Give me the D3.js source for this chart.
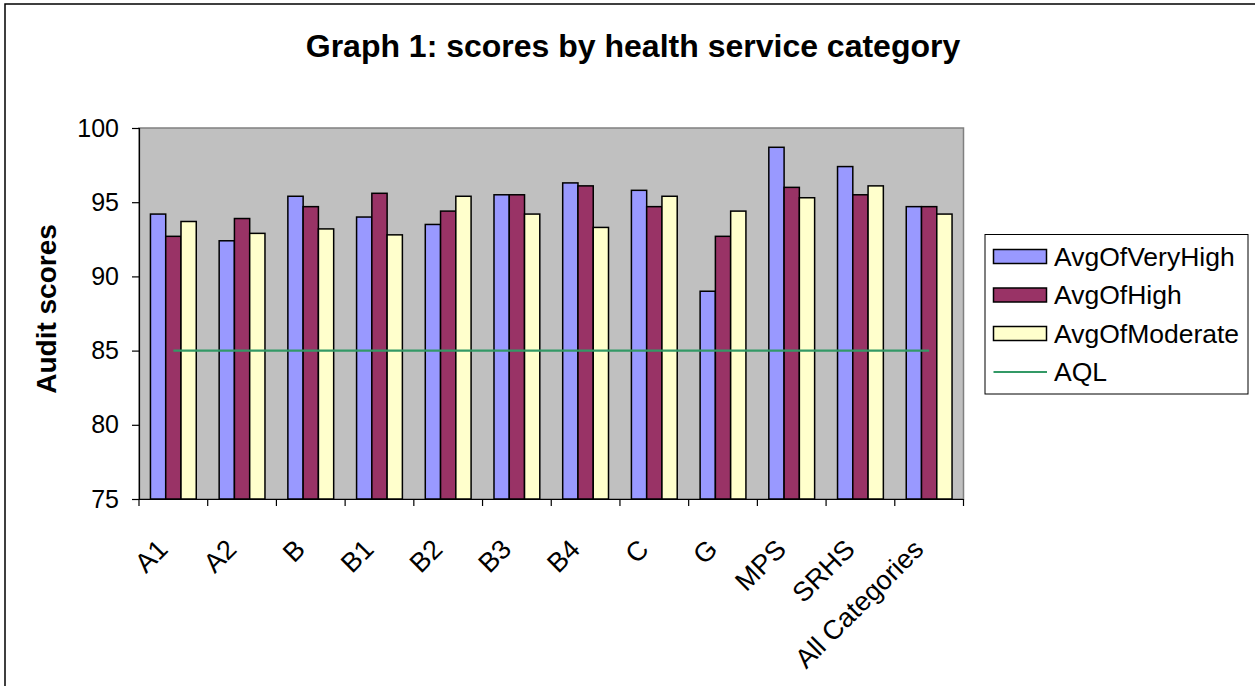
<!DOCTYPE html>
<html>
<head>
<meta charset="utf-8">
<script src="https://cdn.jsdelivr.net/npm/d3@7"></script>
<style>
  html, body { margin: 0; padding: 0; background: #fff; }
  svg { display: block; font-family: "Liberation Sans", Arial, sans-serif; }
</style>
</head>
<body>
<svg id="chart" width="1255" height="686"></svg>
<script>
const categories = ["A1", "A2", "B", "B1", "B2", "B3", "B4", "C", "G", "MPS", "SRHS", "All Categories"];
const seriesNames = ["AvgOfVeryHigh", "AvgOfHigh", "AvgOfModerate"];
const avgOfVeryHigh = [94.2, 92.4, 95.4, 94.0, 93.5, 95.5, 96.3, 95.8, 89.0, 98.7, 97.4, 94.7];
const avgOfHigh     = [92.7, 93.9, 94.7, 95.6, 94.4, 95.5, 96.1, 94.7, 92.7, 96.0, 95.5, 94.7];
const avgOfModerate = [93.7, 92.9, 93.2, 92.8, 95.4, 94.2, 93.3, 95.4, 94.4, 95.3, 96.1, 94.2];
const aql           = [85, 85, 85, 85, 85, 85, 85, 85, 85, 85, 85, 85];
const yTicks = [75, 80, 85, 90, 95, 100];
const seriesColors = ["#9999FF", "#993366", "#FFFFCC"];
const aqlColor = "#339966";

const seriesValues = [avgOfVeryHigh, avgOfHigh, avgOfModerate];

const svg = d3.select("#chart");

// chart outer border (right/bottom edges fall outside the picture)
svg.append("rect")
  .attr("x", 5).attr("y", 4).attr("width", 1300).attr("height", 720)
  .attr("fill", "#fff").attr("stroke", "#000").attr("stroke-width", 1.5);

const plot = { left: 139, right: 963.5, top: 128, bottom: 499 };

const x = d3.scaleBand().domain(categories).range([plot.left, plot.right]).padding(0);
const step = x.bandwidth();
const xs = d3.scaleBand().domain(seriesNames).range([step / 6, step * 5 / 6]).padding(0);
const y = d3.scaleLinear().domain([75, 100]).range([plot.bottom, plot.top]);

// plot area
svg.append("rect")
  .attr("x", plot.left).attr("y", plot.top)
  .attr("width", plot.right - plot.left).attr("height", plot.bottom - plot.top)
  .attr("fill", "#C0C0C0").attr("stroke", "#808080").attr("stroke-width", 1.5);

// bars
const groups = svg.append("g").selectAll("g")
  .data(categories).join("g")
  .attr("transform", d => `translate(${x(d)},0)`);

groups.selectAll("rect")
  .data((c, i) => seriesNames.map((s, k) => ({ s, k, v: seriesValues[k][i] })))
  .join("rect")
  .attr("x", d => xs(d.s))
  .attr("width", xs.bandwidth())
  .attr("y", d => y(d.v))
  .attr("height", d => y(75) - y(d.v))
  .attr("fill", d => seriesColors[d.k])
  .attr("stroke", "#000").attr("stroke-width", 1.5);

// AQL line
const line = d3.line()
  .x((d, i) => x(categories[i]) + step / 2)
  .y(d => y(d));
svg.append("path")
  .datum(aql)
  .attr("d", line)
  .attr("fill", "none").attr("stroke", aqlColor).attr("stroke-width", 2.2);

// Y axis
const yAxis = d3.axisLeft(y).tickValues(yTicks).tickSize(7).tickPadding(13).tickFormat(d3.format("d"));
const gy = svg.append("g").attr("transform", `translate(${plot.left},0)`).call(yAxis);
gy.select(".domain").attr("stroke", "#000").attr("stroke-width", 1.2);
gy.selectAll(".tick line").attr("stroke", "#000").attr("stroke-width", 1.2);
gy.selectAll(".tick text").attr("font-size", 25).attr("fill", "#000")
  .attr("font-family", "Liberation Sans, Arial, sans-serif");

// X axis (ticks at category boundaries)
const xAxis = d3.axisBottom(x).tickSize(0).tickFormat("");
const gx = svg.append("g").attr("transform", `translate(0,${plot.bottom})`).call(xAxis);
gx.select(".domain").attr("stroke", "#000").attr("stroke-width", 1.2);
gx.selectAll(".tick").remove();
const boundaries = categories.map(c => x(c)).concat([x(categories[categories.length - 1]) + step]);
gx.selectAll("line.bound").data(boundaries).join("line")
  .attr("class", "bound")
  .attr("x1", d => d).attr("x2", d => d)
  .attr("y1", 0).attr("y2", 7)
  .attr("stroke", "#000").attr("stroke-width", 1.2);

// rotated x labels
svg.append("g").selectAll("text")
  .data(categories).join("text")
  .attr("transform", d => `translate(${x(d) + step / 2 - 4},${plot.bottom + 52}) rotate(-45)`)
  .attr("text-anchor", "end")
  .attr("font-size", 27)
  .attr("fill", "#000")
  .text(d => d);

// Y axis title
svg.append("text")
  .attr("transform", `translate(56,309) rotate(-90)`)
  .attr("text-anchor", "middle")
  .attr("font-size", 28).attr("font-weight", "bold")
  .text("Audit scores");

// Title
svg.append("text")
  .attr("x", 633).attr("y", 57)
  .attr("text-anchor", "middle")
  .attr("font-size", 32).attr("font-weight", "bold")
  .text("Graph 1: scores by health service category");

// Legend
const legend = svg.append("g");
legend.append("rect")
  .attr("x", 985).attr("y", 234.5).attr("width", 263).attr("height", 159.5)
  .attr("fill", "#fff").attr("stroke", "#000").attr("stroke-width", 1);

const legendItems = seriesNames.concat(["AQL"]);
const ly = d3.scalePoint().domain(legendItems).range([256.5, 372]);

legend.selectAll("rect.sw")
  .data(seriesNames).join("rect")
  .attr("class", "sw")
  .attr("x", 993.5).attr("width", 53)
  .attr("y", d => ly(d) - 7).attr("height", 14)
  .attr("fill", (d, i) => seriesColors[i])
  .attr("stroke", "#000").attr("stroke-width", 1.5);

legend.append("line")
  .attr("x1", 993.5).attr("x2", 1047)
  .attr("y1", ly("AQL")).attr("y2", ly("AQL"))
  .attr("stroke", aqlColor).attr("stroke-width", 2);

legend.selectAll("text")
  .data(legendItems).join("text")
  .attr("x", 1054)
  .attr("y", d => ly(d) + 9)
  .attr("font-size", 26.5)
  .attr("fill", "#000")
  .text(d => d);
</script>
</body>
</html>
